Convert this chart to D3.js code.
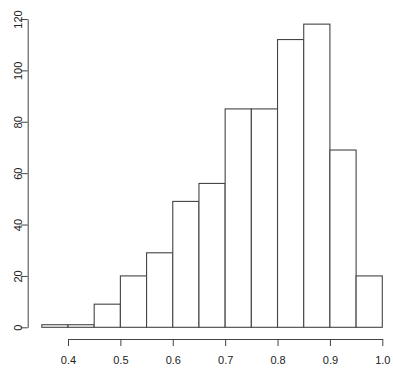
<!DOCTYPE html>
<html>
<head>
<meta charset="utf-8">
<script src="https://cdn.jsdelivr.net/npm/d3@7"></script>
<style>
  html, body { margin: 0; padding: 0; background: #fff; }
  svg { display: block; }
</style>
</head>
<body>
<div id="chart"></div>
<script>
// histogram bins (left edges) and counts
const binStarts = [0.35, 0.40, 0.45, 0.50, 0.55, 0.60, 0.65, 0.70, 0.75, 0.80, 0.85, 0.90, 0.95];
const binWidth = 0.05;
const counts = [1, 1, 9, 20, 29, 49, 56, 85, 85, 112, 118, 69, 20];
const xTicks = [0.4, 0.5, 0.6, 0.7, 0.8, 0.9, 1.0];
const yTicks = [0, 20, 40, 60, 80, 100, 120];

const W = 393, H = 368;
const ink = "#444";

const svg = d3.select("#chart").append("svg")
    .attr("width", W)
    .attr("height", H);

const x = d3.scaleLinear().domain([0.4, 1.0]).range([68, 382.3]);
const y = d3.scaleLinear().domain([0, 120]).range([327.3, 19]);

// bars
svg.append("g")
    .selectAll("rect")
    .data(binStarts.map((s, i) => ({ s, c: counts[i] })))
    .join("rect")
    .attr("x", d => x(d.s))
    .attr("y", d => y(d.c))
    .attr("width", d => x(d.s + binWidth) - x(d.s))
    .attr("height", d => y(0) - y(d.c))
    .attr("fill", "#fff")
    .attr("stroke", ink)
    .attr("stroke-width", 1.1);

// x axis
const xAxis = svg.append("g")
    .attr("transform", "translate(0,339)")
    .call(d3.axisBottom(x).tickValues(xTicks).tickFormat(d3.format(".1f")).tickSize(7).tickSizeOuter(0).tickPadding(10));

// y axis, labels rotated like R
const yAxis = svg.append("g")
    .attr("transform", "translate(27.7,0)")
    .call(d3.axisLeft(y).tickValues(yTicks).tickSize(7).tickSizeOuter(0));

yAxis.selectAll(".tick text")
    .attr("transform", "rotate(-90, -6, 0)")
    .attr("x", -6)
    .attr("y", 0)
    .attr("dy", "0")
    .attr("text-anchor", "middle");

[xAxis, yAxis].forEach(g => {
    g.attr("font-family", "Liberation Sans, Arial, sans-serif")
        .attr("font-size", 11);
    g.select(".domain").attr("stroke", ink);
    g.selectAll(".tick line").attr("stroke", ink);
    g.selectAll(".tick text").attr("fill", "#222");
});
</script>
</body>
</html>
